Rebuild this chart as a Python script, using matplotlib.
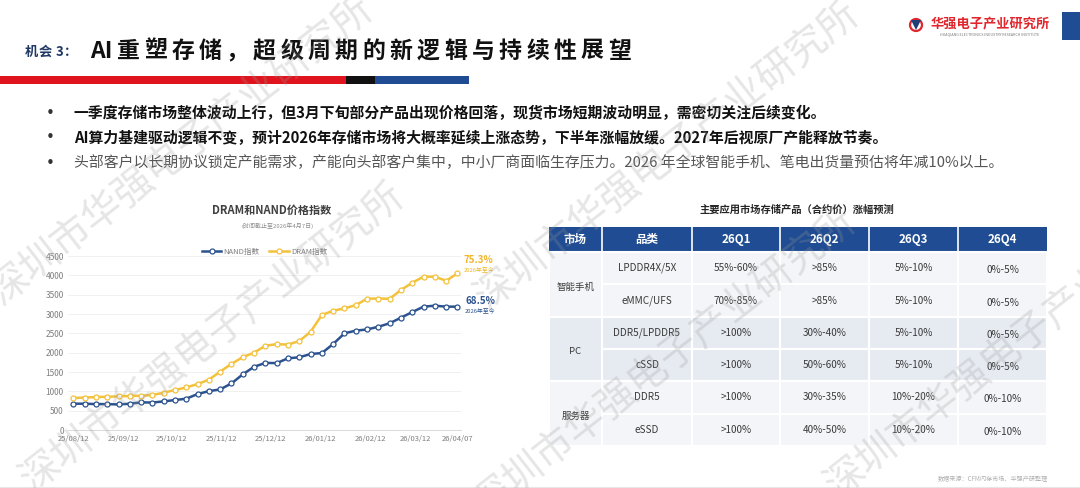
import matplotlib
matplotlib.use("Agg")
import matplotlib.pyplot as plt
from matplotlib.patches import Rectangle, Circle, Polygon
import pandas as pd

plt.rcParams['font.family'] = ['Noto Sans CJK SC', 'DejaVu Sans']

W, H = 1080, 488

# ---------------- data ----------------
dates = pd.date_range('2025-08-12', '2026-04-07', freq='7D')
nand = [680, 680, 670, 670, 660, 680, 715, 710, 740, 775, 810, 930, 1005, 1050, 1205,
        1440, 1635, 1735, 1730, 1855, 1880, 1965, 1990, 2225, 2500, 2570, 2600, 2670,
        2760, 2905, 3050, 3190, 3215, 3190, 3190]
dram = [827, 840, 850, 860, 870, 880, 885, 905, 965, 1035, 1100, 1190, 1300, 1510, 1710,
        1885, 2000, 2180, 2220, 2210, 2300, 2540, 2975, 3085, 3145, 3230, 3395, 3400,
        3395, 3620, 3810, 3965, 3965, 3860, 4050]
tick_dates = ['2025-08-12', '2025-09-12', '2025-10-12', '2025-11-12', '2025-12-12',
              '2026-01-12', '2026-02-12', '2026-03-12', '2026-04-07']
tick_labels = ['25/08/12', '25/09/12', '25/10/12', '25/11/12', '25/12/12',
               '26/01/12', '26/02/12', '26/03/12', '26/04/07']
nand_ytd = '68.5%'
dram_ytd = '75.3%'

markets = ['智能手机', 'PC', '服务器']
categories = ['LPDDR4X/5X', 'eMMC/UFS', 'DDR5/LPDDR5', 'cSSD', 'DDR5', 'eSSD']
headers = ['市场', '品类', '26Q1', '26Q2', '26Q3', '26Q4']
q1 = ['55%-60%', '70%-85%', '>100%', '>100%', '>100%', '>100%']
q2 = ['>85%', '>85%', '30%-40%', '50%-60%', '30%-35%', '40%-50%']
q3 = ['5%-10%', '5%-10%', '5%-10%', '5%-10%', '10%-20%', '10%-20%']
q4 = ['0%-5%', '0%-5%', '0%-5%', '0%-5%', '0%-10%', '0%-10%']

title_pre = '机会3：'
title_main = 'AI重塑存储，超级周期的新逻辑与持续性展望'
bullets = [
    '一季度存储市场整体波动上行，但3月下旬部分产品出现价格回落，现货市场短期波动明显，需密切关注后续变化。',
    'AI算力基建驱动逻辑不变，预计2026年存储市场将大概率延续上涨态势，下半年涨幅放缓。2027年后视原厂产能释放节奏。',
    '头部客户以长期协议锁定产能需求，产能向头部客户集中，中小厂商面临生存压力。2026 年全球智能手机、笔电出货量预估将年减10%以上。',
]
watermark = '深圳市华强电子产业研究所'

NAVY = '#1f4c92'
BLUE = '#2c538f'
GOLD = '#f3c23c'

fig = plt.figure(figsize=(W / 100, H / 100), dpi=100)
fig.patch.set_facecolor('white')

# background layer in pixel coordinates
bg = fig.add_axes([0, 0, 1, 1], zorder=0)
bg.set_xlim(0, W)
bg.set_ylim(H, 0)
bg.axis('off')

# ---- header ----
for ch, x in zip(title_pre, [31, 45.5, 59.5, 71]):
    bg.text(x, 52, ch, fontsize=9.5, fontweight='bold', color='#1f3864', ha='center', va='center')
bg.text(90, 51, 'AI', fontsize=16.5, fontweight='bold', color='#111111', ha='left', va='center')
for i, ch in enumerate(title_main[2:]):
    bg.text(128 + i * 27.3, 51, ch, fontsize=16.5, fontweight='bold', color='#111111',
            ha='center', va='center')

bg.add_patch(Rectangle((0, 76), 346, 8, color='#e0141e', lw=0))
bg.add_patch(Rectangle((346, 76), 29, 8, color='#111111', lw=0))
bg.add_patch(Rectangle((375, 76), 94, 8, color=NAVY, lw=0))

# logo
bg.add_patch(Circle((916, 25), 6, fill=False, ec='#e0262c', lw=1.6))
bg.add_patch(Polygon([[911, 20], [921, 20], [916, 30]], closed=True, color='#1f3f7a', lw=0))
bg.text(990, 24, '华强电子产业研究所', fontsize=9.5, fontweight='bold', color='#e0262c',
        ha='center', va='center')
bg.text(990, 34.5, 'HUAQIANG ELECTRONICS INDUSTRY RESEARCH INSTITUTE', fontsize=2.6,
        color='#777777', ha='center', va='center')
bg.add_patch(Rectangle((1062, 12), 18, 28, color=NAVY, lw=0))

# ---- bullets ----
for i, line in enumerate(bullets):
    y = 113 + i * 25
    bold = i < 2
    bg.text(50, y, '•', fontsize=11, color='#333333', ha='center', va='center',
            family='DejaVu Sans')
    bg.text(74, y, line, fontsize=10.7, fontweight='bold' if bold else 'normal',
            color='#111111' if bold else '#555555', ha='left', va='center')

# ---- left chart ----
bg.text(272, 210, 'DRAM和NAND价格指数', fontsize=8, fontweight='bold', color='#404040',
        ha='center', va='center')
bg.text(278, 226, '(时间截止至2026年4月7日)', fontsize=4.3, color='#8c8c8c', ha='center', va='center')

ax = fig.add_axes([68 / W, 1 - 430 / H, (461 - 68) / W, (430 - 256) / H], zorder=1)
ax.set_facecolor('white')
mk = dict(marker='o', markersize=3.6, markerfacecolor='white', markeredgewidth=0.9)
ax.plot(dates, nand, color=BLUE, lw=1.8, label='NAND指数', markeredgecolor=BLUE, **mk)
ax.plot(dates, dram, color=GOLD, lw=1.8, label='DRAM指数', markeredgecolor=GOLD, **mk)
ax.set_ylim(0, 4500)
ax.set_yticks(range(0, 4501, 500))
ax.set_xlim(dates[0] - pd.Timedelta(days=3.3), dates[-1] + pd.Timedelta(days=2.2))
ax.set_xticks(pd.to_datetime(tick_dates))
ax.set_xticklabels(tick_labels)
ax.tick_params(axis='both', length=0, labelcolor='#7f7f7f')
ax.tick_params(axis='x', pad=3.5, labelsize=5.5)
ax.tick_params(axis='y', pad=3, labelsize=6)
ax.yaxis.grid(True, color='#eeeeee', lw=0.6)
ax.set_axisbelow(True)
for s in ['top', 'right', 'left']:
    ax.spines[s].set_visible(False)
ax.spines['bottom'].set_color('#d9d9d9')
ax.spines['bottom'].set_linewidth(0.7)
ax.legend(loc='lower center', bbox_to_anchor=(0.5, 0.985), ncol=2, frameon=False,
          fontsize=5.5, labelcolor='#7f7f7f', handlelength=2.6, columnspacing=1.2,
          handletextpad=0.3, borderaxespad=0)

ax.annotate(dram_ytd, xy=(dates[-1], dram[-1]), xytext=(21, 13), textcoords='offset pixels',
            fontsize=7, fontweight='bold', color='#f0b52a', ha='center', va='center',
            annotation_clip=False)
ax.annotate('2026年至今', xy=(dates[-1], dram[-1]), xytext=(22, 4), textcoords='offset pixels',
            fontsize=4.2, color='#f0b52a', ha='center', va='center', annotation_clip=False)
ax.annotate(nand_ytd, xy=(dates[-1], nand[-1]), xytext=(23, 5.5), textcoords='offset pixels',
            fontsize=7, fontweight='bold', color=BLUE, ha='center', va='center',
            annotation_clip=False)
ax.annotate('2026年至今', xy=(dates[-1], nand[-1]), xytext=(23, -3.5), textcoords='offset pixels',
            fontsize=4.2, color=BLUE, ha='center', va='center', annotation_clip=False)

# ---- right table ----
bg.text(797, 210, '主要应用市场存储产品（合约价）涨幅预测', fontsize=7.4, fontweight='bold',
        color='#262626', ha='center', va='center')

cx = [549, 602, 692, 780, 869, 958, 1047]
ry = [227, 252, 284.3, 316.7, 349, 381.3, 413.7, 446]
group_fill = ['#f3f5f8', '#e6ebf2', '#f3f5f8']

bg.add_patch(Rectangle((cx[0], ry[0]), cx[-1] - cx[0], ry[1] - ry[0], color=NAVY, lw=0))
for j, htxt in enumerate(headers):
    if j > 0:
        bg.plot([cx[j], cx[j]], [ry[0], ry[1]], color='white', lw=1.2)
    bg.text((cx[j] + cx[j + 1]) / 2, (ry[0] + ry[1]) / 2, htxt, fontsize=8.3, fontweight='bold',
            color='white', ha='center', va='center')

cols = [categories, q1, q2, q3, q4]
for r in range(len(categories)):
    g = r // 2
    y0, y1 = ry[r + 1], ry[r + 2]
    for j, col in enumerate(cols):
        x0, x1 = cx[j + 1], cx[j + 2]
        bg.add_patch(Rectangle((x0, y0), x1 - x0, y1 - y0, fc=group_fill[g], ec='white', lw=1.5))
        dy = 2 if j == 4 else 0
        bg.text((x0 + x1) / 2, (y0 + y1) / 2 + dy, col[r], fontsize=7.2, color='#3a3a3a',
                ha='center', va='center')

for g, m in enumerate(markets):
    y0, y1 = ry[1 + 2 * g], ry[3 + 2 * g]
    bg.add_patch(Rectangle((cx[0], y0), cx[1] - cx[0], y1 - y0, fc=group_fill[g], ec='white', lw=1.5))
    bg.text((cx[0] + cx[1]) / 2, (y0 + y1) / 2 + 3, m, fontsize=6.8, color='#3a3a3a',
            ha='center', va='center')

bg.text(993, 479, '数据来源：CFM闪存市场、华强产研整理', fontsize=4.4, color='#b0b0b0',
        ha='center', va='center')
bg.plot([0, W], [486.5, 486.5], color='#e6e6e6', lw=0.8)

# ---- watermark layer ----
top = fig.add_axes([0, 0, 1, 1], zorder=5)
top.set_xlim(0, W)
top.set_ylim(H, 0)
top.axis('off')
top.patch.set_alpha(0)
for (x, y) in [(182, 151), (213, 338), (668, 156), (665, 363), (1018, 344)]:
    top.text(x, y, watermark, fontsize=28.5, color='#9a9a9a', alpha=0.25, rotation=38,
             rotation_mode='anchor', ha='center', va='center', fontweight='light')

fig.savefig('out.png', dpi=100, facecolor='white')
